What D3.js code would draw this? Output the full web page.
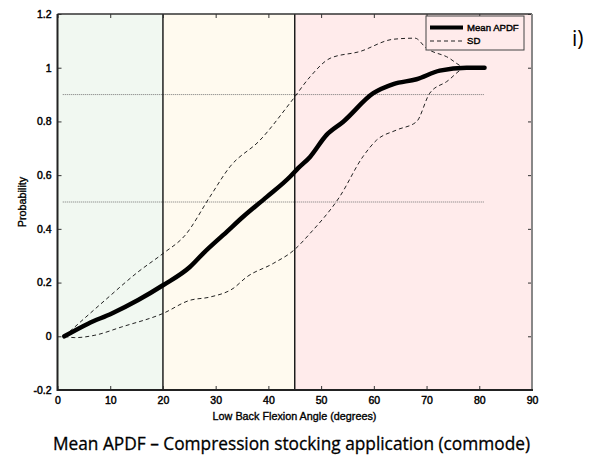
<!DOCTYPE html>
<html><head><meta charset="utf-8">
<script src="https://cdn.jsdelivr.net/npm/d3@7"></script>
<style>body{margin:0;background:#fff}svg{display:block}</style>
</head><body>
<svg id="c" width="589" height="462"></svg>
<script>
// Data
const meanX = [1.3, 5.8, 10.3, 15.3, 20, 25.1, 27.6, 32.1, 35.2, 39.7, 44.1, 45.6, 47.9, 51.0, 54.2, 59.9, 63.7, 68.1, 72.5, 77.6, 81.0];
const meanY = [0, 0.047, 0.085, 0.135, 0.19, 0.258, 0.308, 0.389, 0.445, 0.519, 0.594, 0.625, 0.668, 0.749, 0.799, 0.905, 0.939, 0.957, 0.989, 1.0, 1.0];
const sdUpX = [1.3, 9.0, 15.3, 20, 24.2, 28.9, 32.7, 38.4, 44.4, 47.9, 51.7, 57.3, 63.7, 67.8, 70.0, 73.8, 77.6, 80.5];
const sdUpY = [0, 0.134, 0.24, 0.308, 0.376, 0.519, 0.631, 0.73, 0.876, 0.966, 1.035, 1.06, 1.106, 1.11, 1.072, 1.041, 1.0, 1.0];
const sdLoX = [1.3, 3.3, 7.1, 12.2, 20, 25.1, 28.9, 33.3, 35.9, 40.9, 44.8, 47.9, 53.5, 57.9, 60.5, 64.3, 68.1, 70.6, 73.8, 77.6, 80.5];
const sdLoY = [0, -0.005, 0.004, 0.035, 0.085, 0.134, 0.146, 0.178, 0.221, 0.271, 0.32, 0.383, 0.519, 0.668, 0.73, 0.768, 0.799, 0.905, 0.948, 1.0, 1.0];
const zones = [{x0:0,x1:20,c:"#f1f8f1"},{x0:20,x1:45,c:"#fffaef"},{x0:45,x1:90,c:"#ffebeb"}];
const vLines = [20, 45];
const hRefs = [0.9, 0.5];
const refRange = [1, 81];
const xTicks = [0,10,20,30,40,50,60,70,80,90];
const yTicks = [-0.2,0,0.2,0.4,0.6,0.8,1,1.2];
const legendLabels = ["Mean APDF","SD"];

const svg = d3.select("#c");
const L=57.5, R=532, T=14, B=390;
const x = d3.scaleLinear().domain([0,90]).range([L,R]);
const y = d3.scaleLinear().domain([-0.2,1.2]).range([B,T]);
const font = "'Liberation Sans', Arial, Helvetica, sans-serif";

svg.selectAll("rect.z").data(zones).join("rect")
  .attr("x",d=>x(d.x0)).attr("y",T).attr("width",d=>x(d.x1)-x(d.x0)).attr("height",B-T).attr("fill",d=>d.c);

svg.selectAll("line.h").data(hRefs).join("line")
  .attr("x1",x(refRange[0])).attr("x2",x(refRange[1])).attr("y1",d=>y(d)).attr("y2",d=>y(d))
  .attr("stroke","#777").attr("stroke-width",1).attr("stroke-dasharray","1,1");

svg.selectAll("line.v").data(vLines).join("line")
  .attr("x1",d=>x(d)).attr("x2",d=>x(d)).attr("y1",T).attr("y2",B)
  .attr("stroke","#111").attr("stroke-width",1.4);

const line = d3.line().curve(d3.curveMonotoneX);
const pts = (xs,ys)=>xs.map((v,i)=>[x(v),y(ys[i])]);
svg.append("path").attr("d",line(pts(sdUpX,sdUpY))).attr("fill","none").attr("stroke","#222").attr("stroke-width",1).attr("stroke-dasharray","4,3");
svg.append("path").attr("d",line(pts(sdLoX,sdLoY))).attr("fill","none").attr("stroke","#222").attr("stroke-width",1).attr("stroke-dasharray","4,3");
svg.append("path").attr("d",line(pts(meanX,meanY))).attr("fill","none").attr("stroke","#000").attr("stroke-width",4.5).attr("stroke-linejoin","round").attr("stroke-linecap","round");

const gx = svg.append("g").attr("transform",`translate(0,${B})`).call(d3.axisBottom(x).tickValues(xTicks).tickSize(-4).tickPadding(7).tickFormat(d3.format("d")));
const gxt = svg.append("g").attr("transform",`translate(0,${T})`).call(d3.axisTop(x).tickValues(xTicks).tickSize(-4).tickFormat(""));
const gy = svg.append("g").attr("transform",`translate(${L},0)`).call(d3.axisLeft(y).tickValues(yTicks).tickSize(-4).tickPadding(6).tickFormat(d=>String(+d.toFixed(1))));
const gyr = svg.append("g").attr("transform",`translate(${R},0)`).call(d3.axisRight(y).tickValues(yTicks).tickSize(-4).tickFormat(""));
[gx,gxt,gy,gyr].forEach(g=>{g.select(".domain").remove(); g.selectAll("line").attr("stroke","#333");});
[gx,gy].forEach(g=>g.selectAll("text").attr("font-family",font).attr("font-size",10.5).attr("fill","#000").attr("stroke","#000").attr("stroke-width",0.45));

svg.append("line").attr("x1",L).attr("x2",R).attr("y1",T).attr("y2",T).attr("stroke","#333").attr("stroke-width",1.5);
svg.append("line").attr("x1",R).attr("x2",R).attr("y1",T).attr("y2",B).attr("stroke","#888").attr("stroke-width",2);
svg.append("line").attr("x1",L).attr("x2",L).attr("y1",T).attr("y2",B+1).attr("stroke","#222").attr("stroke-width",2);
svg.append("line").attr("x1",L).attr("x2",R+1).attr("y1",B).attr("y2",B).attr("stroke","#222").attr("stroke-width",2);

const lg = svg.append("g");
lg.append("rect").attr("x",426).attr("y",16).attr("width",98).attr("height",34).attr("fill","#ffebeb").attr("stroke","#444").attr("stroke-width",1);
lg.append("line").attr("x1",430).attr("x2",463).attr("y1",27.5).attr("y2",27.5).attr("stroke","#000").attr("stroke-width",4);
lg.append("line").attr("x1",430).attr("x2",463).attr("y1",41).attr("y2",41).attr("stroke","#222").attr("stroke-width",1).attr("stroke-dasharray","4,3");
lg.selectAll("text").data(legendLabels).join("text").attr("x",467).attr("y",(d,i)=>31+i*13).text(d=>d)
  .attr("font-family",font).attr("font-size",9.6).attr("fill","#000").attr("stroke","#000").attr("stroke-width",0.4);

svg.append("text").attr("x",294.5).attr("y",420).attr("text-anchor","middle").text("Low Back Flexion Angle (degrees)")
  .attr("font-family",font).attr("font-size",10.8).attr("fill","#000").attr("stroke","#000").attr("stroke-width",0.35);
svg.append("text").attr("transform","translate(26,202) rotate(-90)").attr("text-anchor","middle").text("Probability")
  .attr("font-family",font).attr("font-size",10.8).attr("fill","#000").attr("stroke","#000").attr("stroke-width",0.35);
svg.append("text").attr("x",291.5).attr("y",450).attr("text-anchor","middle").text("Mean APDF – Compression stocking application (commode)")
  .attr("font-family","'Open Sans', 'Noto Sans', sans-serif").attr("font-size",17.3).attr("fill","#000").attr("stroke","#000").attr("stroke-width",0.3)
  .attr("textLength",477).attr("lengthAdjust","spacingAndGlyphs");
svg.append("text").attr("x",572).attr("y",46).text("i)")
  .attr("font-family","'Open Sans', 'Noto Sans', sans-serif").attr("font-size",21).attr("fill","#000");
</script>
</body></html>
